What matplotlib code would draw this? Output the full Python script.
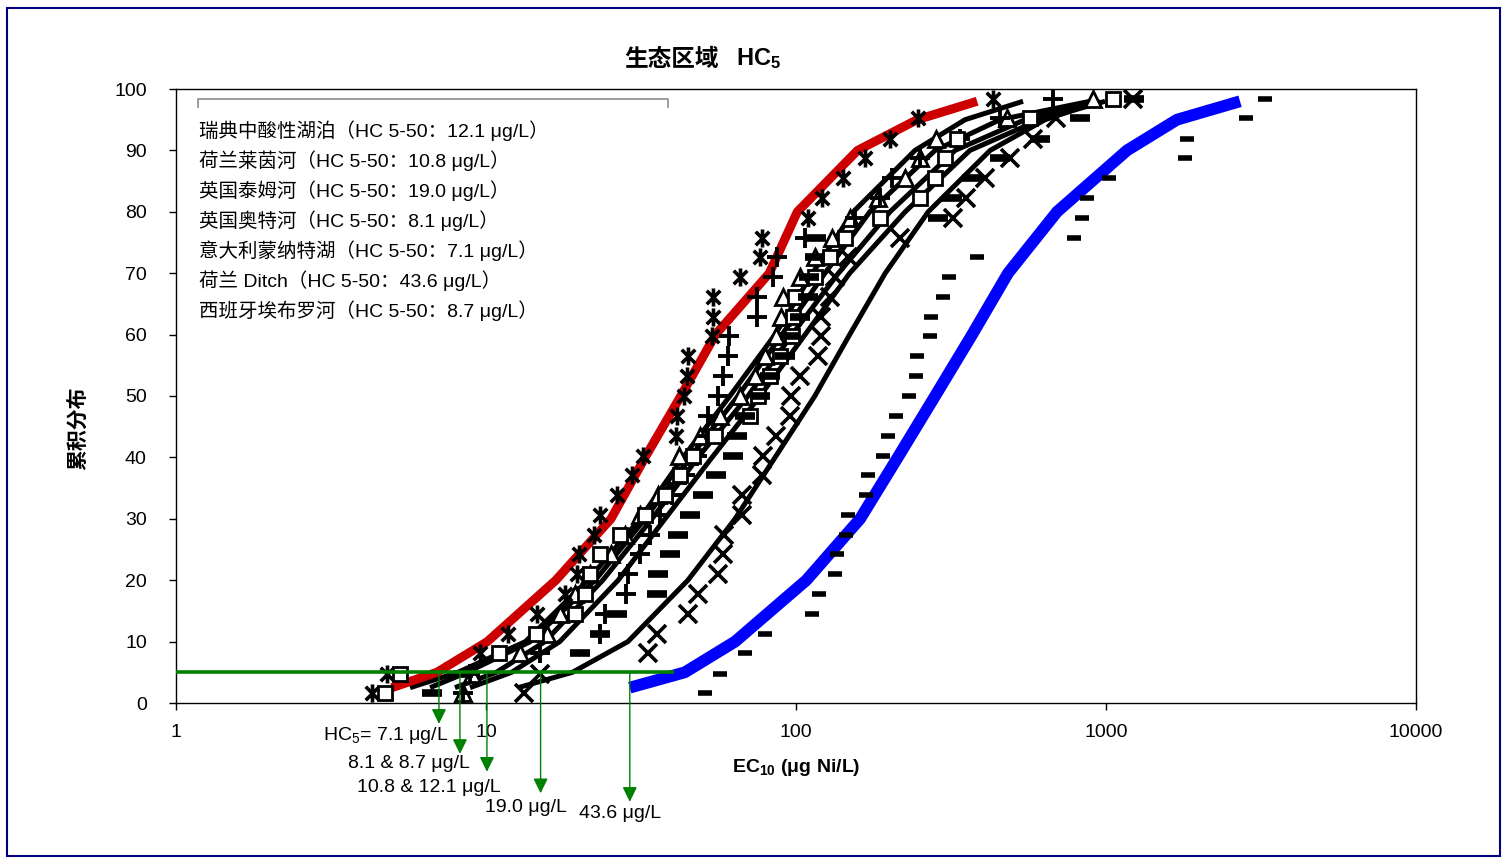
import numpy as np
import matplotlib
matplotlib.use('Agg')
import matplotlib.pyplot as plt
from matplotlib.path import Path
from matplotlib.patches import Rectangle
from matplotlib.ticker import FixedLocator, NullLocator

plt.rcParams['font.family'] = ['Liberation Sans', 'Noto Sans CJK SC', 'DejaVu Sans']
plt.rcParams['mathtext.fontset'] = 'custom'
plt.rcParams['mathtext.rm'] = 'Liberation Sans'
plt.rcParams['mathtext.bf'] = 'Liberation Sans:bold'
plt.rcParams['mathtext.it'] = 'Liberation Sans:italic'

# cumulative plotting position (%) shared by all species sets
cum_pct = [1.6, 4.8, 8.1, 11.3, 14.5, 17.7, 21.0, 24.2, 27.4, 30.6, 33.9, 37.1, 40.3, 43.5, 46.8, 50.0,
           53.2, 56.5, 59.7, 62.9, 66.1, 69.4, 72.6, 75.8, 79.0, 82.3, 85.5, 88.7, 91.9, 95.2, 98.4]

# EC10 values (ug Ni/L) per ecoregion
star_ec10 = [4.29, 4.79, 9.56, 11.8, 14.6, 18.0, 19.7, 19.9, 22.3, 23.3, 26.5, 29.6, 32.1, 41.0, 41.3, 43.5,
             44.5, 44.8, 53.6, 53.8, 54.0, 66.0, 76.6, 77.7, 109, 121, 142, 167, 201, 247, 432]
plus_ec10 = [8.43, 8.88, 14.9, 23.3, 24.2, 28.3, 28.7, 31.4, 33.8, 36.4, 39.8, 43.8, 47.9, 51.6, 52.0, 56.0,
             58.1, 60.3, 60.6, 74.8, 75.0, 84.3, 86.8, 107, 155, 187, 204, 251, 338, 455, 675]
tri_ec10 = [8.43, 9.0, 12.9, 15.7, 17.3, 19.4, 21.7, 25.3, 28.1, 31.4, 35.9, 41.0, 41.9, 49.0, 56.9, 66.0,
            73.8, 79.4, 86.2, 89.4, 90.8, 103, 115, 131, 149, 184, 225, 251, 283, 479, 908]
sq_ec10 = [4.72, 5.28, 11.0, 14.5, 19.4, 20.9, 21.7, 23.3, 27.1, 32.6, 37.8, 42.3, 46.5, 54.8, 71.1, 75.4,
           82.4, 88.8, 97.1, 97.5, 99.3, 115, 129, 144, 187, 251, 281, 302, 331, 569, 1053]
x_ec10 = [13.3, 14.9, 33.3, 35.6, 44.8, 48.3, 56.0, 58.1, 58.4, 66.9, 67.2, 77.7, 78.3, 86.2, 95.6, 96.0,
          103, 118, 120, 120.5, 129, 134, 147, 217, 321, 353, 407, 490, 581, 690, 1222]
dash_ec10 = [6.70, 8.43, 20.1, 23.3, 26.5, 35.6, 35.9, 39.2, 41.6, 45.5, 50.1, 55.2, 62.6, 64.5, 68.5, 76.6,
             82.4, 92.2, 95.6, 103, 109, 110, 115, 116, 287, 319, 370, 455, 612, 824, 1230]
ditch_ec10 = [50.9, 56.9, 68.5, 79.4, 113, 119, 134, 136, 145, 147, 168, 171, 191, 198, 210, 231,
              244, 246, 271, 273, 298, 312, 384, 788, 837, 868, 1023, 1798, 1825, 2829, 3257]

# fitted SSD curves
fit_pct = [2.5, 5, 10, 20, 30, 40, 50, 60, 70, 80, 90, 95, 98]
red_fit = [4.97, 6.95, 10.1, 16.8, 25.3, 32.6, 42.5, 55.0, 82.0, 101, 158, 246, 384]
blue_fit = [29.1, 43.8, 63.6, 108, 161, 213, 281, 370, 483, 695, 1169, 1694, 2706]
black_fits = [
    [5.69, 8.12, 13.4, 21.3, 31.4, 43.2, 61.2, 85.6, 113, 153, 242, 351, 540],
    [6.60, 8.70, 13.9, 22.5, 32.6, 45.5, 65.0, 90.1, 124, 173, 281, 455, 888],
    [7.94, 10.8, 15.5, 23.8, 34.3, 48.3, 70.0, 97.1, 137, 201, 326, 548, 942],
    [8.88, 12.1, 17.3, 26.7, 37.8, 53.6, 76.6, 107, 149, 225, 364, 612, 993],
    [12.7, 19.0, 28.7, 44.8, 63.6, 85.6, 115, 149, 194, 267, 423, 636, 956],
]

legend_lines = ['瑞典中酸性湖泊（HC 5-50：12.1 μg/L）',
                '荷兰莱茵河（HC 5-50：10.8 μg/L）',
                '英国泰姆河（HC 5-50：19.0 μg/L）',
                '英国奥特河（HC 5-50：8.1 μg/L）',
                '意大利蒙纳特湖（HC 5-50：7.1 μg/L）',
                '荷兰 Ditch（HC 5-50：43.6 μg/L）',
                '西班牙埃布罗河（HC 5-50：8.7 μg/L）']

hc5_level = 5
hc5_line_end = 39.8
arrow_x = [7.05, 8.24, 10.07, 15.0, 29.1]
arrow_tip = [-3.4, -8.3, -11.2, -14.7, -16.1]
arrow_labels = [r'HC$_5$= 7.1 μg/L', '8.1 & 8.7 μg/L', '10.8 & 12.1 μg/L', '19.0 μg/L', '43.6 μg/L']
arrow_label_px = [(386, 736), (409, 764), (429, 787), (526, 808), (620, 814)]

W, H = 1505, 858
fig = plt.figure(figsize=(W / 100, H / 100), dpi=100)


def fx(px):
    return px / W


def fy(py):
    return 1 - py / H


ax = fig.add_axes([fx(176), fy(703), fx(1416) - fx(176), fy(89) - fy(703)])

star = Path([(0, -1), (0, 1), (-0.75, -0.75), (0.75, 0.75), (-0.75, 0.75), (0.75, -0.75)],
            [Path.MOVETO, Path.LINETO, Path.MOVETO, Path.LINETO, Path.MOVETO, Path.LINETO])

# fitted lines
for fit in black_fits:
    ax.plot(fit, fit_pct, color='black', lw=3.6, zorder=2, solid_capstyle='butt')
ax.plot(red_fit, fit_pct, color='#cc0000', lw=6.5, zorder=2, solid_capstyle='butt')
ax.plot(blue_fit, fit_pct, color='#0000ff', lw=8.5, zorder=2, solid_capstyle='butt')

# species data
ax.plot(star_ec10, cum_pct, ls='none', marker=star, ms=13, mew=2.6, mec='black', zorder=4)
ax.plot(plus_ec10, cum_pct, ls='none', marker='+', ms=14, mew=2.8, mec='black', zorder=4)
ax.plot(tri_ec10, cum_pct, ls='none', marker='^', ms=12, mew=2.0, mec='black', mfc='white', zorder=3)
ax.plot(sq_ec10, cum_pct, ls='none', marker='s', ms=10, mew=2.0, mec='black', mfc='white', zorder=4)
ax.plot(x_ec10, cum_pct, ls='none', marker='x', ms=13, mew=2.6, mec='black', zorder=4)
ax.plot(dash_ec10, cum_pct, ls='none', marker='_', ms=14, mew=5.5, mec='black', zorder=4)
ax.plot(ditch_ec10, cum_pct, ls='none', marker='_', ms=10, mew=4.0, mec='black', zorder=4)

# HC5 line and arrows
ax.plot([1, hc5_line_end], [hc5_level, hc5_level], color='#008000', lw=2.6, zorder=5)
for xa, ya in zip(arrow_x, arrow_tip):
    ax.annotate('', xy=(xa, ya), xytext=(xa, hc5_level), annotation_clip=False,
                arrowprops=dict(arrowstyle='-|>,head_length=0.45,head_width=0.22', color='#008000',
                                lw=1.0, shrinkA=0, shrinkB=0, mutation_scale=20), zorder=5)
for lab, (px, py) in zip(arrow_labels, arrow_label_px):
    fig.text(fx(px), fy(py), lab, ha='center', va='center', fontsize=14)

ax.set_xscale('log')
ax.set_xlim(1, 10000)
ax.set_ylim(0, 100)
ax.xaxis.set_major_locator(FixedLocator([1, 10, 100, 1000, 10000]))
ax.xaxis.set_minor_locator(NullLocator())
ax.set_xticklabels(['1', '10', '100', '1000', '10000'])
ax.set_yticks(range(0, 101, 10))
ax.tick_params(axis='both', direction='out', length=5, width=1, labelsize=14)
ax.tick_params(axis='y', pad=16)
ax.tick_params(axis='x', pad=10)
for sp in ax.spines.values():
    sp.set_linewidth(1.0)

# legend text block with grey top rule
for i, t in enumerate(legend_lines):
    fig.text(fx(199), fy(131 + 30 * i), t, ha='left', va='center', fontsize=14)
fig.add_artist(plt.Line2D([fx(198), fx(198), fx(668), fx(668)], [fy(107), fy(99), fy(99), fy(107)],
                          color='#8c8c8c', lw=1.2))

fig.text(fx(719), fy(59), '生态区域', ha='right', va='center', fontsize=17, fontweight='bold')
fig.text(fx(736), fy(59), r'HC$_\mathbf{5}$', ha='left', va='center', fontsize=17, fontweight='bold')
fig.text(fx(796), fy(768), r'EC$_\mathbf{10}$ (μg Ni/L)', ha='center', va='center', fontsize=14,
         fontweight='bold')
fig.text(fx(78), fy(428), '累积分布', ha='center', va='center', rotation=90, fontsize=15,
         fontweight='bold')

fig.add_artist(Rectangle((fx(7), fy(856)), fx(1500) - fx(7), fy(8) - fy(856), fill=False,
                         edgecolor='#000080', lw=1.5))

fig.savefig('out.png', dpi=100)
